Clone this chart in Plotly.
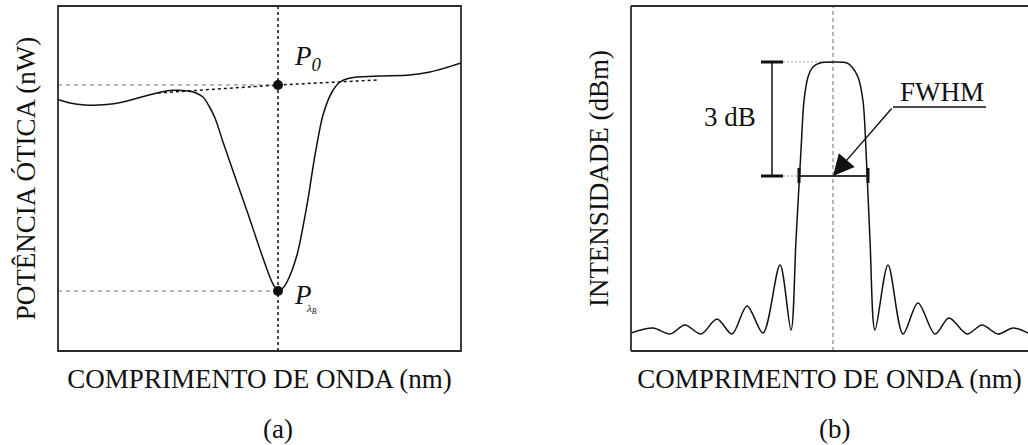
import plotly.graph_objects as go

# ---------------- data (arbitrary units) ----------------
# Panel (a): optical power vs wavelength (reflection dip)
wl_a = [0, 12, 27, 40, 60, 80, 97, 112, 130, 138, 145, 151, 157, 165, 189, 214,
        220, 225, 229, 239, 249, 257, 265, 274, 282, 290, 299, 322, 352, 372, 387, 403]
pw_a = [251.5, 248, 246, 246, 248, 253, 257.5, 260.5, 260, 258, 254, 245, 233, 209, 140, 69,
        60, 63, 69, 96, 146, 196, 236, 259, 269, 272.5, 274, 275, 276, 279, 283, 288]
base_wl_a = [100, 220, 319]          # dashed baseline (tangent)
base_pw_a = [258, 266, 271]
lambda_b = 220                        # Bragg wavelength
p0 = 266                              # P0 level
p_lb = 60                             # P_lambdaB level

# Panel (b): intensity vs wavelength (main lobe + side lobes)
wl_b = [0, 22, 39, 54, 70, 86, 101, 116, 132, 149, 160, 165, 170, 173, 177, 182, 189,
        202, 216, 221, 227, 232, 235, 239, 244, 257, 272, 287, 304, 318, 336, 351, 367, 382, 397]
in_b = [18, 23, 17, 26, 17, 32, 17, 45, 18, 86, 21, 111, 201, 250, 274, 284, 288,
        289, 288, 284, 274, 250, 201, 111, 21, 86, 17, 48, 17, 33, 17, 26, 17, 23, 18]
center_b = 202
peak_b = 289
half_b = 175
fwhm_left, fwhm_right = 168, 237

FONT = "Liberation Serif"
BLACK = "#111111"
GRAY = "#a0a0a0"
FS = 27

fig = go.Figure()

# ---- panel (a) ----
fig.add_trace(go.Scatter(x=[0, lambda_b], y=[p0, p0], mode="lines",
                         line=dict(color=GRAY, width=1.3, dash="4px,4px"),
                         xaxis="x", yaxis="y", hoverinfo="skip"))
fig.add_trace(go.Scatter(x=[0, lambda_b], y=[p_lb, p_lb], mode="lines",
                         line=dict(color=GRAY, width=1.3, dash="4px,4px"),
                         xaxis="x", yaxis="y", hoverinfo="skip"))
fig.add_trace(go.Scatter(x=[lambda_b, lambda_b], y=[0, 345], mode="lines",
                         line=dict(color=BLACK, width=1.5, dash="3px,3px"),
                         xaxis="x", yaxis="y", hoverinfo="skip"))
fig.add_trace(go.Scatter(x=base_wl_a, y=base_pw_a, mode="lines",
                         line=dict(color=BLACK, width=1.5, dash="3px,3px"),
                         xaxis="x", yaxis="y", hoverinfo="skip"))
fig.add_trace(go.Scatter(x=wl_a, y=pw_a, mode="lines",
                         line=dict(color=BLACK, width=1.5, shape="spline", smoothing=0.8),
                         xaxis="x", yaxis="y", hoverinfo="skip"))
fig.add_trace(go.Scatter(x=[lambda_b, lambda_b], y=[p0, p_lb], mode="markers",
                         marker=dict(color=BLACK, size=10),
                         xaxis="x", yaxis="y", hoverinfo="skip"))

# ---- panel (b) ----
fig.add_trace(go.Scatter(x=[center_b, center_b], y=[0, 345], mode="lines",
                         line=dict(color=GRAY, width=1.5, dash="4px,3px"),
                         xaxis="x2", yaxis="y2", hoverinfo="skip"))
fig.add_trace(go.Scatter(x=[152, center_b], y=[peak_b, peak_b], mode="lines",
                         line=dict(color=GRAY, width=1.2, dash="2px,2px"),
                         xaxis="x2", yaxis="y2", hoverinfo="skip"))
fig.add_trace(go.Scatter(x=[152, fwhm_left], y=[half_b, half_b], mode="lines",
                         line=dict(color=GRAY, width=1.2, dash="2px,2px"),
                         xaxis="x2", yaxis="y2", hoverinfo="skip"))
fig.add_trace(go.Scatter(x=wl_b, y=in_b, mode="lines",
                         line=dict(color=BLACK, width=1.5, shape="spline", smoothing=0.9),
                         xaxis="x2", yaxis="y2", hoverinfo="skip"))
# 3 dB bracket
fig.add_trace(go.Scatter(x=[141, 141], y=[peak_b, half_b], mode="lines",
                         line=dict(color=BLACK, width=1.5),
                         xaxis="x2", yaxis="y2", hoverinfo="skip"))
for yy in (peak_b, half_b):
    fig.add_trace(go.Scatter(x=[130, 152], y=[yy, yy], mode="lines",
                             line=dict(color=BLACK, width=3),
                             xaxis="x2", yaxis="y2", hoverinfo="skip"))
# FWHM bar
fig.add_trace(go.Scatter(x=[fwhm_left, fwhm_right], y=[half_b, half_b], mode="lines",
                         line=dict(color="#333333", width=2),
                         xaxis="x2", yaxis="y2", hoverinfo="skip"))
for xx in (fwhm_left, fwhm_right):
    fig.add_trace(go.Scatter(x=[xx, xx], y=[168, 183], mode="lines",
                             line=dict(color=BLACK, width=3),
                             xaxis="x2", yaxis="y2", hoverinfo="skip"))
# leader line for the FWHM label
fig.add_trace(go.Scatter(x=[262, 355], y=[244, 244], mode="lines",
                         line=dict(color=BLACK, width=1.5),
                         xaxis="x2", yaxis="y2", hoverinfo="skip"))

axis_common = dict(showgrid=False, zeroline=False, showticklabels=False, ticks="",
                   showline=False, fixedrange=True)
title_font = dict(family=FONT, size=FS, color=BLACK)
ydom = [94 / 445, 439 / 445]

fig.update_layout(
    width=1028, height=445,
    margin=dict(l=0, r=0, t=0, b=0),
    paper_bgcolor="white", plot_bgcolor="white",
    showlegend=False,
    xaxis=dict(domain=[58 / 1028, 461 / 1028], range=[0, 403], anchor="y",
               title=dict(text="COMPRIMENTO DE ONDA (nm)", font=title_font, standoff=18),
               **axis_common),
    yaxis=dict(domain=ydom, range=[0, 345], anchor="x",
               title=dict(text="POTÊNCIA ÓTICA (nW)", font=title_font, standoff=13),
               **axis_common),
    xaxis2=dict(domain=[631 / 1028, 1.0], range=[0, 397], anchor="y2",
                title=dict(text="COMPRIMENTO DE ONDA (nm)", font=title_font, standoff=18),
                **axis_common),
    yaxis2=dict(domain=ydom, range=[0, 345], anchor="x2",
                title=dict(text="INTENSIDADE (dBm)", font=title_font, standoff=13),
                **axis_common),
)

# frames
frame = dict(color="#2b2b2b", width=1.8)
fig.add_shape(type="rect", xref="x domain", yref="y domain", x0=0, x1=1, y0=0, y1=1,
              line=frame, layer="above")
fig.add_shape(type="line", xref="x2 domain", yref="y2 domain", x0=0, x1=0, y0=0, y1=1,
              line=frame, layer="above")
fig.add_shape(type="line", xref="x2 domain", yref="y2 domain", x0=0, x1=1.02, y0=0, y1=0,
              line=frame, layer="above")
fig.add_shape(type="line", xref="x2 domain", yref="y2 domain", x0=0, x1=1.02, y0=1, y1=1,
              line=frame, layer="above")

annots = [
    dict(text="<i>P</i><sub><i>0</i></sub>", x=234, y=293, xref="x", yref="y",
         xanchor="left", yanchor="middle", showarrow=False,
         font=dict(family=FONT, size=FS, color=BLACK)),
    dict(text="<i>P</i>", x=234, y=56, xref="x", yref="y",
         xanchor="left", yanchor="middle", showarrow=False,
         font=dict(family=FONT, size=FS, color=BLACK)),
    dict(text="<i>λ</i><sub><i>B</i></sub>", x=246, y=42, xref="x", yref="y",
         xanchor="left", yanchor="middle", showarrow=False,
         font=dict(family=FONT, size=11, color=BLACK)),
    dict(text="3 dB", x=99, y=234, xref="x2", yref="y2",
         xanchor="center", yanchor="middle", showarrow=False,
         font=dict(family=FONT, size=FS, color=BLACK)),
    dict(text="FWHM", x=311, y=259, xref="x2", yref="y2",
         xanchor="center", yanchor="middle", showarrow=False,
         font=dict(family=FONT, size=FS, color=BLACK)),
    dict(text="", x=center_b, y=half_b, xref="x2", yref="y2",
         ax=262, ay=244, axref="x2", ayref="y2", showarrow=True,
         arrowhead=2, arrowsize=3, arrowwidth=1.4, arrowcolor=BLACK, standoff=0),
    dict(text="(a)", x=278 / 1028, y=1 - 429 / 445, xref="paper", yref="paper",
         xanchor="center", yanchor="middle", showarrow=False,
         font=dict(family=FONT, size=FS, color=BLACK)),
    dict(text="(b)", x=834 / 1028, y=1 - 429 / 445, xref="paper", yref="paper",
         xanchor="center", yanchor="middle", showarrow=False,
         font=dict(family=FONT, size=FS, color=BLACK)),
]
fig.update_layout(annotations=annots)

fig.write_html("out.html", config={"displayModeBar": False, "staticPlot": True},
               post_script="document.body.style.margin='0';document.body.style.overflow='hidden';")
